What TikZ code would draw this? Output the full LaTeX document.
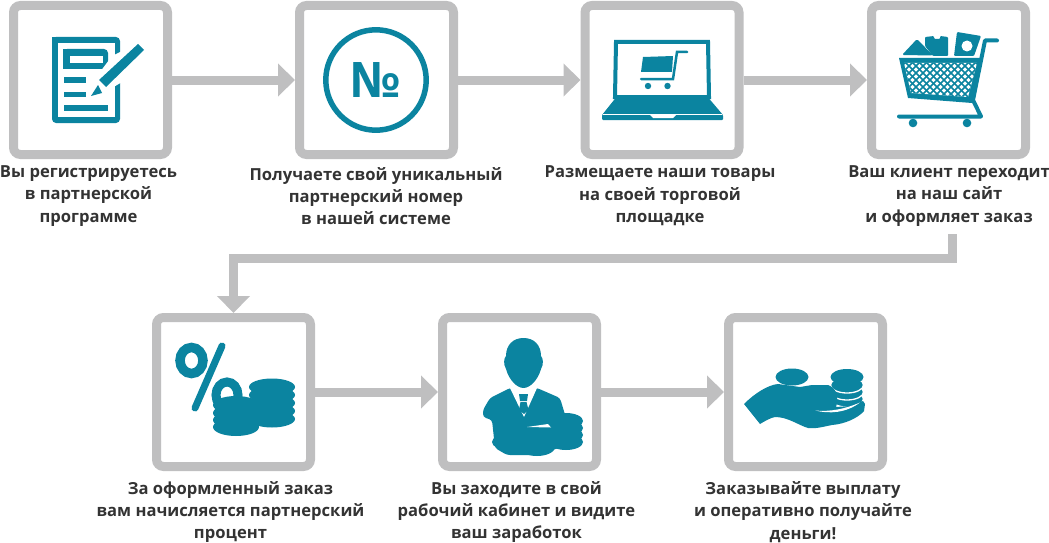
\documentclass[tikz,border=0pt]{standalone}
\usepackage{fontspec}
\setmainfont{Open Sans}
\usetikzlibrary{arrows.meta}
\definecolor{teal1}{HTML}{0B84A0}
\definecolor{gray1}{HTML}{BFBFC0}
\definecolor{txt}{HTML}{333333}
\tikzset{
 card/.style={draw=gray1,line width=9pt,fill=white,rounded corners=7pt,minimum width=154pt,minimum height=149pt,inner sep=0pt},
 flow/.style={draw=gray1,line width=9pt,-{Triangle[length=17pt,width=32pt]}},
 capt/.style={align=center,text=txt,font=\fontsize{16.6pt}{22.4pt}\selectfont\bfseries,inner sep=0pt,anchor=center},
 ink/.style={fill=teal1,draw=none},
 inkl/.style={draw=teal1,fill=none},
 wht/.style={fill=white,draw=none},
 coin/.style={fill=teal1,draw=white,line width=1.3pt},
}
\begin{document}
\begin{tikzpicture}[x=1pt,y=-1pt]
\useasboundingbox (0,0) rectangle (1049,543);
\node[card] (b1) at (90.5,80) {};
\node[card] (b2) at (376.5,80) {};
\node[card] (b3) at (662,80) {};
\node[card] (b4) at (948.5,80) {};
\node[card] (b5) at (233.5,392) {};
\node[card] (b6) at (519.5,392) {};
\node[card] (b7) at (805.5,392) {};
\draw[flow] (b1) -- (b2);
\draw[flow] (b2) -- (b3);
\draw[flow] (b3) -- (b4);
\draw[flow] (b5) -- (b6);
\draw[flow] (b6) -- (b7);
\node[capt] (t1) at (88.5,196) {Вы регистрируетесь\\в партнерской\\программе};
\node[capt] (t2) at (376,196) {Получаете свой уникальный\\партнерский номер\\в нашей системе};
\node[capt] (t3) at (660,196) {Размещаете наши товары\\на своей торговой\\площадке};
\node[capt] (t4) at (949,196) {Ваш клиент переходит\\на наш сайт\\и оформляет заказ};
\node[capt] (t5) at (230.5,512) {За оформленный заказ\\вам начисляется партнерский\\процент};
\node[capt] (t6) at (516.5,512) {Вы заходите в свой\\рабочий кабинет и видите\\ваш заработок};
\node[capt] (t7) at (803,512) {Заказывайте выплату\\и оперативно получайте\\деньги!};
\coordinate (e4) at (952.5,234);
\draw[flow] (e4) -- (952.5,258) -- (b5.north |- 0,258) -- (b5.north);
% icon 1
\fill[ink,rounded corners=4pt] (52,37) -- (120,37) -- (120,123) -- (52,123) -- cycle;
\fill[ink] (52,37) rectangle (60,45);
\fill[wht] (58,43) rectangle (114.5,117);
\fill[ink,rounded corners=4pt] (63,49) -- (108,49) -- (108,69) -- (63,69) -- cycle;
\fill[ink] (63,49) rectangle (70,69);
\fill[wht] (70,56) rectangle (103,63);
\fill[ink] (64,77) rectangle (86,83);
\fill[ink] (64,92) rectangle (86,97);
\fill[ink] (64,105) rectangle (108,111);
\fill[wht] (122,51) -- (122,82) -- (112,88) -- (92,100) -- (88,88) -- (112,56) -- cycle;
\fill[ink] (99,80) -- (138,44) -- (144,50) -- (106,87) -- cycle;
\fill[ink] (91,96) -- (98,85) -- (102,93) -- cycle;
% icon 2
\draw[inkl,line width=5.5pt] (376,80) circle[radius=50.2pt];
\node[inner sep=0pt,text=teal1,font=\fontsize{49pt}{49pt}\selectfont\bfseries] (no) at (375.5,80) {№};
% icon 3
\draw[inkl,line width=4pt] (616,42) -- (708,42) -- (709,97) -- (615,97) -- cycle;
\fill[ink,rounded corners=1pt] (618,95) -- (706,95) -- (723,115) -- (723,120) -- (602,120) -- (602,115) -- cycle;
\draw[white,line width=.7pt] (603,114.7) -- (722,114.7);
\fill[wht] (650,115) -- (676,115) -- (673,118) -- (653,118) -- cycle;
\fill[ink] (643,57) -- (673,56) -- (672,72) -- (641,72) -- cycle;
\draw[inkl,line width=2.5pt,line cap=round] (687,52) -- (677,52) -- (673,79) -- (641,79);
\fill[ink] (648,86) circle[radius=3.2pt] (667.5,86) circle[radius=3.2pt];
% icon 4
\fill[ink] (899,58) -- (983,58) -- (972,103) -- (908,98) -- cycle;
\begin{scope}
\clip (904,63) -- (977,63) -- (968,97) -- (911,93) -- cycle;
\fill[white] (900,60) rectangle (980,100);
\foreach \k in {0,7,...,147}{
 \draw[teal1,line width=1.7pt] (840+\k,60) -- (880+\k,100);
 \draw[teal1,line width=1.7pt] (880+\k,60) -- (840+\k,100);
}
\end{scope}
\draw[inkl,line width=4pt,line cap=round,line join=round] (997,40.5) -- (985,40.5) -- (973,100) -- (981,116.5) -- (899,116.5);
\fill[ink] (913,123) circle[radius=4.3pt] (967,123) circle[radius=4.3pt];
\fill[ink,rounded corners=1.5pt] (902,55) -- (917,39) -- (933,55.5) -- cycle;
\fill[ink,rounded corners=1pt] (925,37) -- (934,36) -- (934,39) -- (940,39) -- (940,36) -- (948,37) -- (948,56) -- (933,56) -- (925,46) -- cycle;
\fill[ink,rounded corners=1pt] (957,32) -- (981,36) -- (974,56) -- (954,56) -- cycle;
\fill[wht] (967,46) circle[radius=5.5pt];
% icon 5
\draw[inkl,line width=9.5pt] (191.5,360.5) ellipse[x radius=11.5pt,y radius=13pt];
\draw[inkl,line width=7pt,line cap=round] (222,346) -- (195,408);
\draw[inkl,line width=9pt] (227,395) ellipse[x radius=11pt,y radius=13pt];
\foreach \yy in {387,395,403,411,419}{\fill[ink] (272,\yy) ellipse[x radius=23pt,y radius=8.5pt];}
\foreach \yy in {405,413,420,427}{\fill[ink] (236,\yy) ellipse[x radius=23pt,y radius=9pt];}
% icon 6
\fill[ink] (523.5,338) .. controls (534,338) and (541,345) .. (541,356) .. controls (543,358) and (544,364) .. (541,369) .. controls (538,380) and (530,388) .. (523.5,388) .. controls (517,388) and (509,380) .. (506,369) .. controls (503,364) and (504,358) .. (506,356) .. controls (506,345) and (513,338) .. (523.5,338) -- cycle;
\fill[ink,rounded corners=3pt] (510,388) -- (537,388) -- (560,398) -- (566,418) -- (566,445) -- (540,455) -- (507,455) -- (495,448) -- (492,420) -- (483,417) -- (483,410) -- (490,398) -- cycle;
\fill[wht] (510,388) -- (537,388) -- (524,417) -- cycle;
\fill[ink] (519,394) -- (528,394) -- (527,401) -- (520,401) -- cycle;
\fill[ink] (520.5,402) -- (526.5,402) -- (528.5,410) -- (524,414) -- (519,410) -- cycle;
\foreach \yy in {421,428,435,442}{\fill[ink] (566,\yy) ellipse[x radius=17pt,y radius=8pt];}
\fill[ink] (508,442) ellipse[x radius=16pt,y radius=8pt];
\fill[ink] (537,447) ellipse[x radius=18pt,y radius=9pt];
\fill[wht] (527,427) -- (548,424) -- (551,427.5) -- cycle;
% icon 7
\foreach \yy in {399,392,385}{\fill[coin] (847,\yy) ellipse[x radius=16.5pt,y radius=8pt];}
\fill[ink] (847,377) ellipse[x radius=16.5pt,y radius=8pt];
\fill[ink] (744,404) .. controls (755,393) and (768,385) .. (778,384) -- (800,387) -- (812,385) -- (828,385) .. controls (837,388) and (839,398) .. (836,407) -- (850,406) -- (863,401) -- (865,404) -- (864,411) .. controls (858,418) and (845,424) .. (832,425) .. controls (822,427) and (815,429) .. (808,428) .. controls (798,425) and (788,417) .. (775,417) .. controls (770,418) and (765,421) .. (760,424) -- cycle;
\fill[wht] (815,410.5) .. controls (830,412) and (845,409) .. (860,402.5) .. controls (846,413) and (830,414) .. (815,410.5) -- cycle;
\fill[ink] (792,377) ellipse[x radius=16.5pt,y radius=8.5pt];
\end{tikzpicture}
\end{document}
